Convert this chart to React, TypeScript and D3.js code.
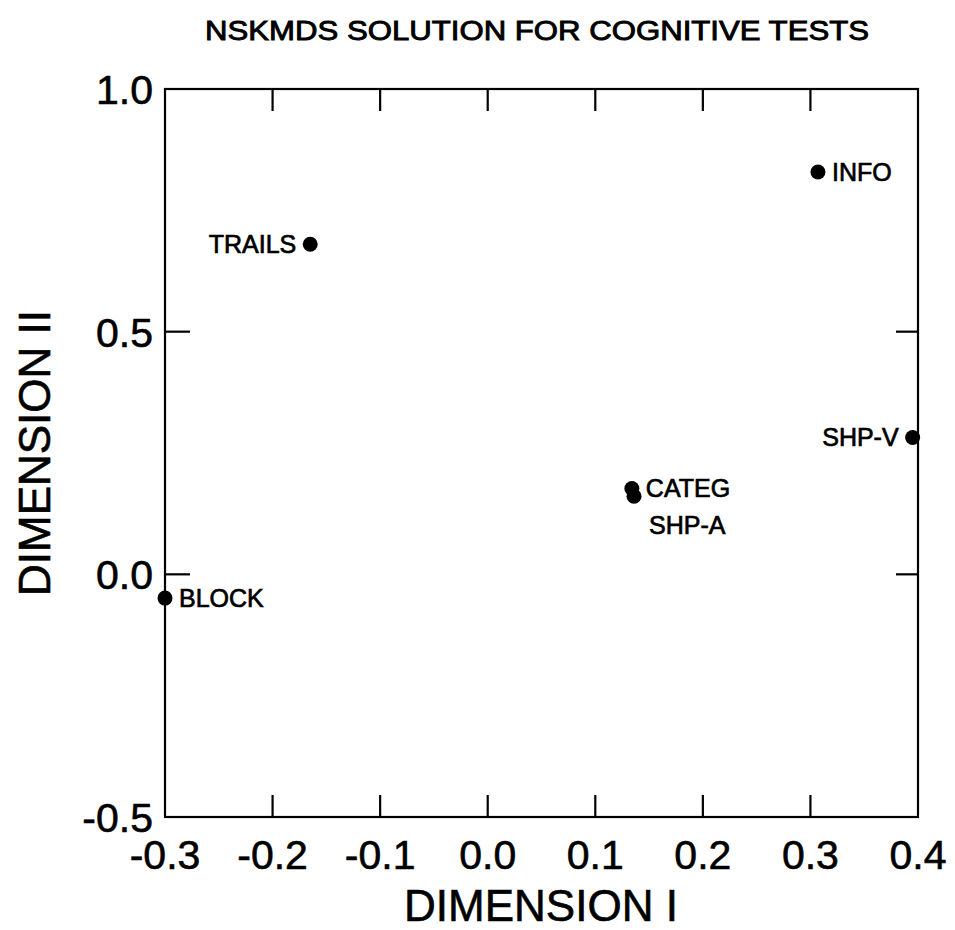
import React from "react";
import * as d3 from "d3";

const TITLE = "NSKMDS SOLUTION FOR COGNITIVE TESTS";
const X_LABEL = "DIMENSION I";
const Y_LABEL = "DIMENSION II";

const tests = ["INFO", "TRAILS", "SHP-V", "CATEG", "SHP-A", "BLOCK"];
const dim1 = [0.307, -0.165, 0.395, 0.134, 0.136, -0.3];
const dim2 = [0.829, 0.68, 0.282, 0.177, 0.161, -0.049];
const labelSide = ["right", "left", "left", "right", "below", "right"];

const xTicks = [-0.3, -0.2, -0.1, 0.0, 0.1, 0.2, 0.3, 0.4];
const yTicks = [1.0, 0.5, 0.0, -0.5];

const W = 955;
const H = 930;
const L = 165;
const R = 918;
const T = 89;
const B = 817;

export default function App() {
  const x = d3.scaleLinear().domain([-0.3, 0.4]).range([L, R]);
  const y = d3.scaleLinear().domain([-0.5, 1.0]).range([B, T]);
  const font = "'Liberation Sans', Arial, sans-serif";
  const tickLen = 22;
  const innerX = xTicks.filter((t) => t > -0.3 + 1e-9 && t < 0.4 - 1e-9);
  const innerY = yTicks.filter((t) => t > -0.5 + 1e-9 && t < 1.0 - 1e-9);
  const fmt = (t: number) => d3.format(".1f")(Math.abs(t) < 1e-9 ? 0 : t).replace("\u2212", "-");

  return (
    <svg
      width={W}
      height={H}
      style={{ position: "absolute", left: 0, top: 0, background: "#fff" }}
      fontFamily={font}
    >
      <rect x={0} y={0} width={W} height={H} fill="#fff" />
      <text
        x={537}
        y={40}
        textAnchor="middle"
        fontSize={27}
        fill="#000"
        stroke="#000"
        strokeWidth={0.9}
        textLength={664}
        lengthAdjust="spacingAndGlyphs"
      >
        {TITLE}
      </text>

      {/* frame */}
      <rect x={L} y={T} width={R - L} height={B - T} fill="none" stroke="#000" strokeWidth={2.2} />

      {/* x ticks top & bottom */}
      {innerX.map((t) => (
        <g key={"xt" + t}>
          <line x1={x(t)} x2={x(t)} y1={B} y2={B - tickLen} stroke="#000" strokeWidth={2.2} />
          <line x1={x(t)} x2={x(t)} y1={T} y2={T + tickLen} stroke="#000" strokeWidth={2.2} />
        </g>
      ))}
      {/* y ticks left & right */}
      {innerY.map((t) => (
        <g key={"yt" + t}>
          <line x1={L} x2={L + tickLen + 3} y1={y(t)} y2={y(t)} stroke="#000" strokeWidth={2.2} />
          <line x1={R} x2={R - tickLen} y1={y(t)} y2={y(t)} stroke="#000" strokeWidth={2.2} />
        </g>
      ))}

      {/* x tick labels */}
      {xTicks.map((t) => (
        <text key={"xl" + t} x={x(t)} y={869} textAnchor="middle" fontSize={41} fill="#000" stroke="#000" strokeWidth={0.6}>
          {fmt(t)}
        </text>
      ))}
      {/* y tick labels */}
      {yTicks.map((t) => (
        <text key={"yl" + t} x={153} y={y(t) + 15} textAnchor="end" fontSize={41} fill="#000" stroke="#000" strokeWidth={0.6}>
          {fmt(t)}
        </text>
      ))}

      {/* axis titles */}
      <text x={541} y={921} textAnchor="middle" fontSize={44} fill="#000" stroke="#000" strokeWidth={0.6}>
        {X_LABEL}
      </text>
      <text
        transform={`translate(50,453) rotate(-90)`}
        textAnchor="middle"
        fontSize={44}
        fill="#000"
        stroke="#000"
        strokeWidth={0.6}
      >
        {Y_LABEL}
      </text>

      {/* points */}
      {tests.map((name, i) => {
        const px = x(dim1[i]);
        const py = y(dim2[i]);
        const side = labelSide[i];
        let tx = px + 14;
        let ty = py + 9;
        let anchor: "start" | "end" = "start";
        if (side === "left") {
          tx = px - 14;
          anchor = "end";
        } else if (side === "below") {
          tx = px + 15;
          ty = py + 38;
        }
        return (
          <g key={name}>
            <circle cx={px} cy={py} r={7.5} fill="#000" />
            <text x={tx} y={ty} textAnchor={anchor} fontSize={25} fill="#000" stroke="#000" strokeWidth={0.7}>
              {name}
            </text>
          </g>
        );
      })}
    </svg>
  );
}
